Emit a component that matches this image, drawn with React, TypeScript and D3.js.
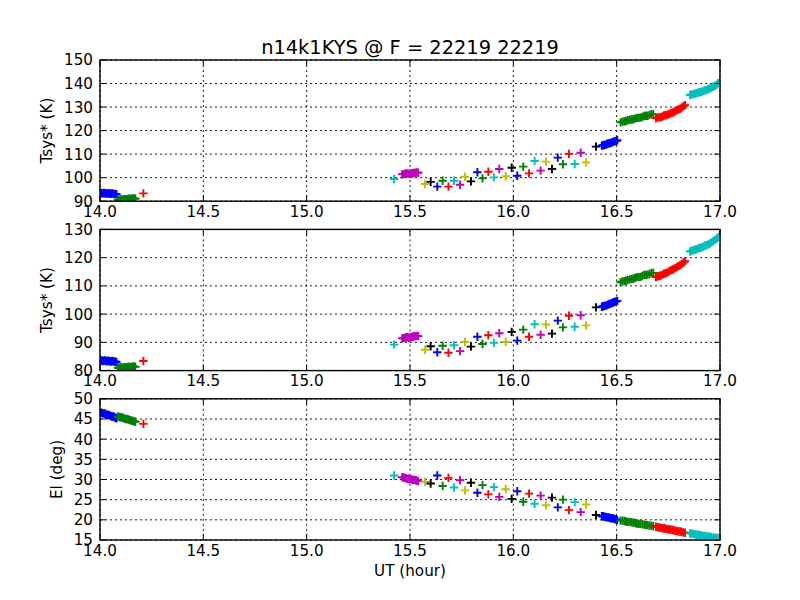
import * as d3 from "d3";

// one entry per scan; colours cycle b, g, r, c, m, y, k like matplotlib
const utByScan = [
  [14.003, 14.009, 14.014, 14.02, 14.025, 14.031, 14.036, 14.042, 14.047, 14.053, 14.058, 14.064, 14.069, 14.075, 14.08],
  [14.087, 14.093, 14.099, 14.105, 14.111, 14.117, 14.123, 14.129, 14.135, 14.141, 14.147, 14.153, 14.159, 14.165, 14.171],
  [14.21],
  [15.423],
  [15.462, 15.468, 15.475, 15.481, 15.488, 15.494, 15.501, 15.507, 15.514, 15.52, 15.527, 15.533, 15.54],
  [15.573], [15.6], [15.632], [15.658], [15.686], [15.713], [15.742],
  [15.766], [15.795], [15.826], [15.851], [15.879], [15.906], [15.932],
  [15.963], [15.992], [16.019], [16.048], [16.076], [16.103], [16.132],
  [16.158], [16.187], [16.215], [16.24], [16.269], [16.297], [16.326],
  [16.352], [16.4],
  [16.428, 16.434, 16.44, 16.447, 16.453, 16.459, 16.465, 16.471, 16.478, 16.484, 16.49, 16.497, 16.503],
  [16.519, 16.528, 16.537, 16.545, 16.554, 16.563, 16.572, 16.58, 16.589, 16.598, 16.607, 16.615, 16.624, 16.633, 16.642, 16.65, 16.659, 16.668, 16.677],
  [16.69, 16.698, 16.706, 16.714, 16.722, 16.729, 16.737, 16.745, 16.753, 16.761, 16.769, 16.776, 16.784, 16.792, 16.8, 16.808, 16.815, 16.823, 16.831],
  [16.855, 16.863, 16.871, 16.879, 16.887, 16.895, 16.903, 16.911, 16.919, 16.927, 16.935, 16.943, 16.951, 16.959, 16.967, 16.975, 16.983, 16.991, 16.999],
];

const tsysTopByScan = [
  [93.5, 93.4, 93.3, 93.5, 93.4, 93.2, 93.3, 93.4, 93.2, 93.1, 93.3, 93.2, 93.0, 93.1, 92.9],
  [90.6, 90.5, 90.7, 90.6, 90.6, 90.8, 90.8, 90.7, 90.9, 91.0, 90.9, 91.0, 91.1, 91.2, 91.0],
  [93.3],
  [99.4],
  [101.4, 101.5, 101.6, 101.8, 101.8, 101.6, 101.7, 101.9, 101.9, 102.1, 102.0, 102.2, 102.1],
  [97.3], [98.2], [96.2], [98.7], [96.2], [98.7], [97.0],
  [100.4], [98.4], [102.3], [99.7], [102.5], [100.1], [103.7],
  [100.6], [104.2], [100.8], [104.7], [101.8], [107.1], [103.0],
  [106.8], [103.7], [108.5], [105.7], [110.1], [105.8], [110.6],
  [106.5], [113.2],
  [113.6, 113.8, 113.9, 114.0, 114.3, 114.5, 114.6, 114.7, 115.0, 115.3, 115.4, 115.6, 115.9],
  [123.5, 123.8, 123.9, 124.1, 124.4, 124.6, 124.7, 124.8, 125.1, 125.4, 125.4, 125.5, 125.8, 126.2, 126.3, 126.3, 126.6, 127.0, 127.0],
  [125.2, 125.5, 125.6, 125.7, 126.0, 126.4, 126.5, 126.6, 127.0, 127.4, 127.6, 127.9, 128.3, 128.7, 129.0, 129.3, 129.8, 130.4, 130.8],
  [135.1, 135.4, 135.5, 135.7, 135.9, 136.2, 136.3, 136.5, 136.8, 137.1, 137.3, 137.6, 137.9, 138.3, 138.6, 139.0, 139.5, 140.1, 140.6],
];

const tsysMidByScan = [
  [83.5, 83.6, 83.4, 83.5, 83.6, 83.3, 83.4, 83.5, 83.3, 83.2, 83.4, 83.3, 83.1, 83.2, 82.9],
  [81.0, 80.9, 81.1, 81.0, 81.0, 81.2, 81.2, 81.1, 81.3, 81.4, 81.2, 81.3, 81.4, 81.5, 81.3],
  [83.4],
  [89.2],
  [91.4, 91.5, 91.6, 91.8, 91.8, 91.6, 91.7, 91.9, 92.0, 92.2, 92.1, 92.3, 92.2],
  [87.4], [88.6], [86.5], [88.8], [86.3], [89.0], [86.9],
  [90.1], [88.5], [92.0], [89.4], [92.5], [89.8], [93.2],
  [90.1], [93.7], [90.6], [94.5], [92.0], [96.4], [92.7],
  [96.3], [93.1], [97.7], [95.3], [99.4], [95.5], [99.6],
  [96.0], [102.4],
  [102.6, 102.8, 102.9, 103.0, 103.2, 103.4, 103.6, 103.7, 103.9, 104.2, 104.3, 104.5, 104.7],
  [111.3, 111.6, 111.7, 111.8, 112.1, 112.3, 112.4, 112.5, 112.8, 113.1, 113.1, 113.2, 113.5, 113.9, 113.9, 114.0, 114.2, 114.6, 114.6],
  [113.1, 113.4, 113.5, 113.7, 114.0, 114.3, 114.5, 114.7, 115.1, 115.5, 115.7, 116.0, 116.3, 116.7, 117.0, 117.3, 117.8, 118.3, 118.7],
  [122.2, 122.5, 122.6, 122.8, 123.0, 123.3, 123.4, 123.6, 123.9, 124.2, 124.4, 124.7, 125.0, 125.4, 125.8, 126.2, 126.7, 127.2, 127.7],
];

const elByScan = [
  [46.6, 46.5, 46.4, 46.4, 46.3, 46.1, 46.0, 46.0, 45.9, 45.7, 45.6, 45.6, 45.5, 45.3, 45.2],
  [45.6, 45.5, 45.4, 45.4, 45.3, 45.1, 45.0, 45.0, 44.9, 44.8, 44.7, 44.6, 44.5, 44.4, 44.3],
  [43.8],
  [31.0],
  [30.6, 30.5, 30.4, 30.3, 30.2, 30.2, 30.1, 30.0, 29.9, 29.9, 29.8, 29.7, 29.6],
  [29.4], [29.0], [31.0], [28.4], [30.4], [28.0], [29.8],
  [27.3], [29.2], [26.7], [28.6], [26.3], [28.1], [25.7],
  [27.6], [25.2], [27.1], [24.5], [26.5], [24.0], [26.0],
  [23.6], [25.5], [23.1], [25.0], [22.4], [24.4], [21.9],
  [23.8], [21.2],
  [20.9, 20.9, 20.8, 20.7, 20.6, 20.6, 20.5, 20.4, 20.4, 20.3, 20.2, 20.1, 20.0],
  [19.8, 19.8, 19.7, 19.6, 19.5, 19.5, 19.4, 19.3, 19.2, 19.1, 19.0, 19.0, 18.9, 18.8, 18.7, 18.7, 18.6, 18.5, 18.4],
  [18.3, 18.2, 18.1, 18.0, 17.9, 17.9, 17.8, 17.7, 17.6, 17.6, 17.5, 17.4, 17.3, 17.2, 17.1, 17.1, 17.0, 16.9, 16.8],
  [16.6, 16.6, 16.5, 16.4, 16.3, 16.3, 16.2, 16.1, 16.0, 16.0, 15.9, 15.9, 15.8, 15.7, 15.6, 15.6, 15.5, 15.5, 15.4],
];

const colorCycle = ["#0000ff", "#008000", "#ff0000", "#00bfbf", "#bf00bf", "#bfbf00", "#000000"];

const xTicks = [14.0, 14.5, 15.0, 15.5, 16.0, 16.5, 17.0];
const yLabels = ["Tsys* (K)", "Tsys* (K)", "El (deg)"];
const yDomains = [[90, 150], [80, 130], [15, 50]];
const yTicks = [
  [90, 100, 110, 120, 130, 140, 150],
  [80, 90, 100, 110, 120, 130],
  [15, 20, 25, 30, 35, 40, 45, 50],
];
const panelData = [tsysTopByScan, tsysMidByScan, elByScan];

const title = "n14k1KYS @ F = 22219 22219";
const xLabel = "UT (hour)";

const W = 800;
const H = 600;
const left = 100;
const right = 720;
const top = 60;
const bottom = 540;
const hspace = 0.2;
const panelH = (bottom - top) / (3 + 2 * hspace);
const tickLen = 5.5;
const fontPx = 15.2;

const x = d3.scaleLinear().domain([14, 17]).range([left, right]);
const fmtX = d3.format(".1f");

const plus = (s: number) => `M${-s},0H${s}M0,${-s}V${s}`;

function Panel({ i }: { i: number }) {
  const y0 = top + i * panelH * (1 + hspace);
  const y1 = y0 + panelH;
  const y = d3.scaleLinear().domain(yDomains[i]).range([y1, y0]);
  const ys = panelData[i];
  const clipId = `clip${i}`;
  // ylabel sits left of the widest tick label
  const maxChars = d3.max(yTicks[i], (t) => String(t).length) ?? 2;
  const labelX = left - 7 - maxChars * fontPx * 0.636 - 11.5;

  return (
    <g>
      <defs>
        <clipPath id={clipId}>
          <rect x={left} y={y0} width={right - left} height={panelH} />
        </clipPath>
      </defs>
      <rect x={left} y={y0} width={right - left} height={panelH} fill="#fff" />
      <g stroke="#000" strokeWidth={0.9} strokeDasharray="2,3">
        {xTicks.map((t) => (
          <line key={`gx${t}`} x1={x(t)} x2={x(t)} y1={y0} y2={y1} />
        ))}
        {yTicks[i].map((t) => (
          <line key={`gy${t}`} x1={left} x2={right} y1={y(t)} y2={y(t)} />
        ))}
      </g>
      <g clipPath={`url(#${clipId})`} fill="none" strokeWidth={1.9}>
        {utByScan.map((uts, s) =>
          uts.map((u, k) => (
            <path
              key={`m${s}-${k}`}
              d={plus(4.2)}
              transform={`translate(${x(u)},${y(ys[s][k])})`}
              stroke={colorCycle[s % colorCycle.length]}
            />
          ))
        )}
      </g>
      <g stroke="#000" strokeWidth={1}>
        {xTicks.map((t) => (
          <g key={`tx${t}`}>
            <line x1={x(t)} x2={x(t)} y1={y1} y2={y1 - tickLen} />
            <line x1={x(t)} x2={x(t)} y1={y0} y2={y0 + tickLen} />
          </g>
        ))}
        {yTicks[i].map((t) => (
          <g key={`ty${t}`}>
            <line x1={left} x2={left + tickLen} y1={y(t)} y2={y(t)} />
            <line x1={right} x2={right - tickLen} y1={y(t)} y2={y(t)} />
          </g>
        ))}
      </g>
      <rect
        x={left}
        y={y0}
        width={right - left}
        height={panelH}
        fill="none"
        stroke="#000"
        strokeWidth={1.4}
      />
      <g fontSize={fontPx} fill="#000">
        {xTicks.map((t) => (
          <text key={`lx${t}`} x={x(t)} y={y1 + 15.5} textAnchor="middle">
            {fmtX(t)}
          </text>
        ))}
        {yTicks[i].map((t) => (
          <text key={`ly${t}`} x={left - 7} y={y(t)} dy="0.36em" textAnchor="end">
            {t}
          </text>
        ))}
        <text
          transform={`translate(${labelX},${(y0 + y1) / 2}) rotate(-90)`}
          textAnchor="middle"
        >
          {yLabels[i]}
        </text>
      </g>
    </g>
  );
}

export default function App() {
  return (
    <svg
      width={W}
      height={H}
      style={{ position: "absolute", left: 0, top: 0, background: "#fff" }}
      fontFamily="DejaVu Sans"
    >
      <rect width={W} height={H} fill="#fff" />
      <text x={(left + right) / 2} y={53.5} textAnchor="middle" fontSize={19.4}>
        {title}
      </text>
      {[0, 1, 2].map((i) => (
        <Panel key={i} i={i} />
      ))}
      <text x={(left + right) / 2} y={576} textAnchor="middle" fontSize={fontPx}>
        {xLabel}
      </text>
    </svg>
  );
}
